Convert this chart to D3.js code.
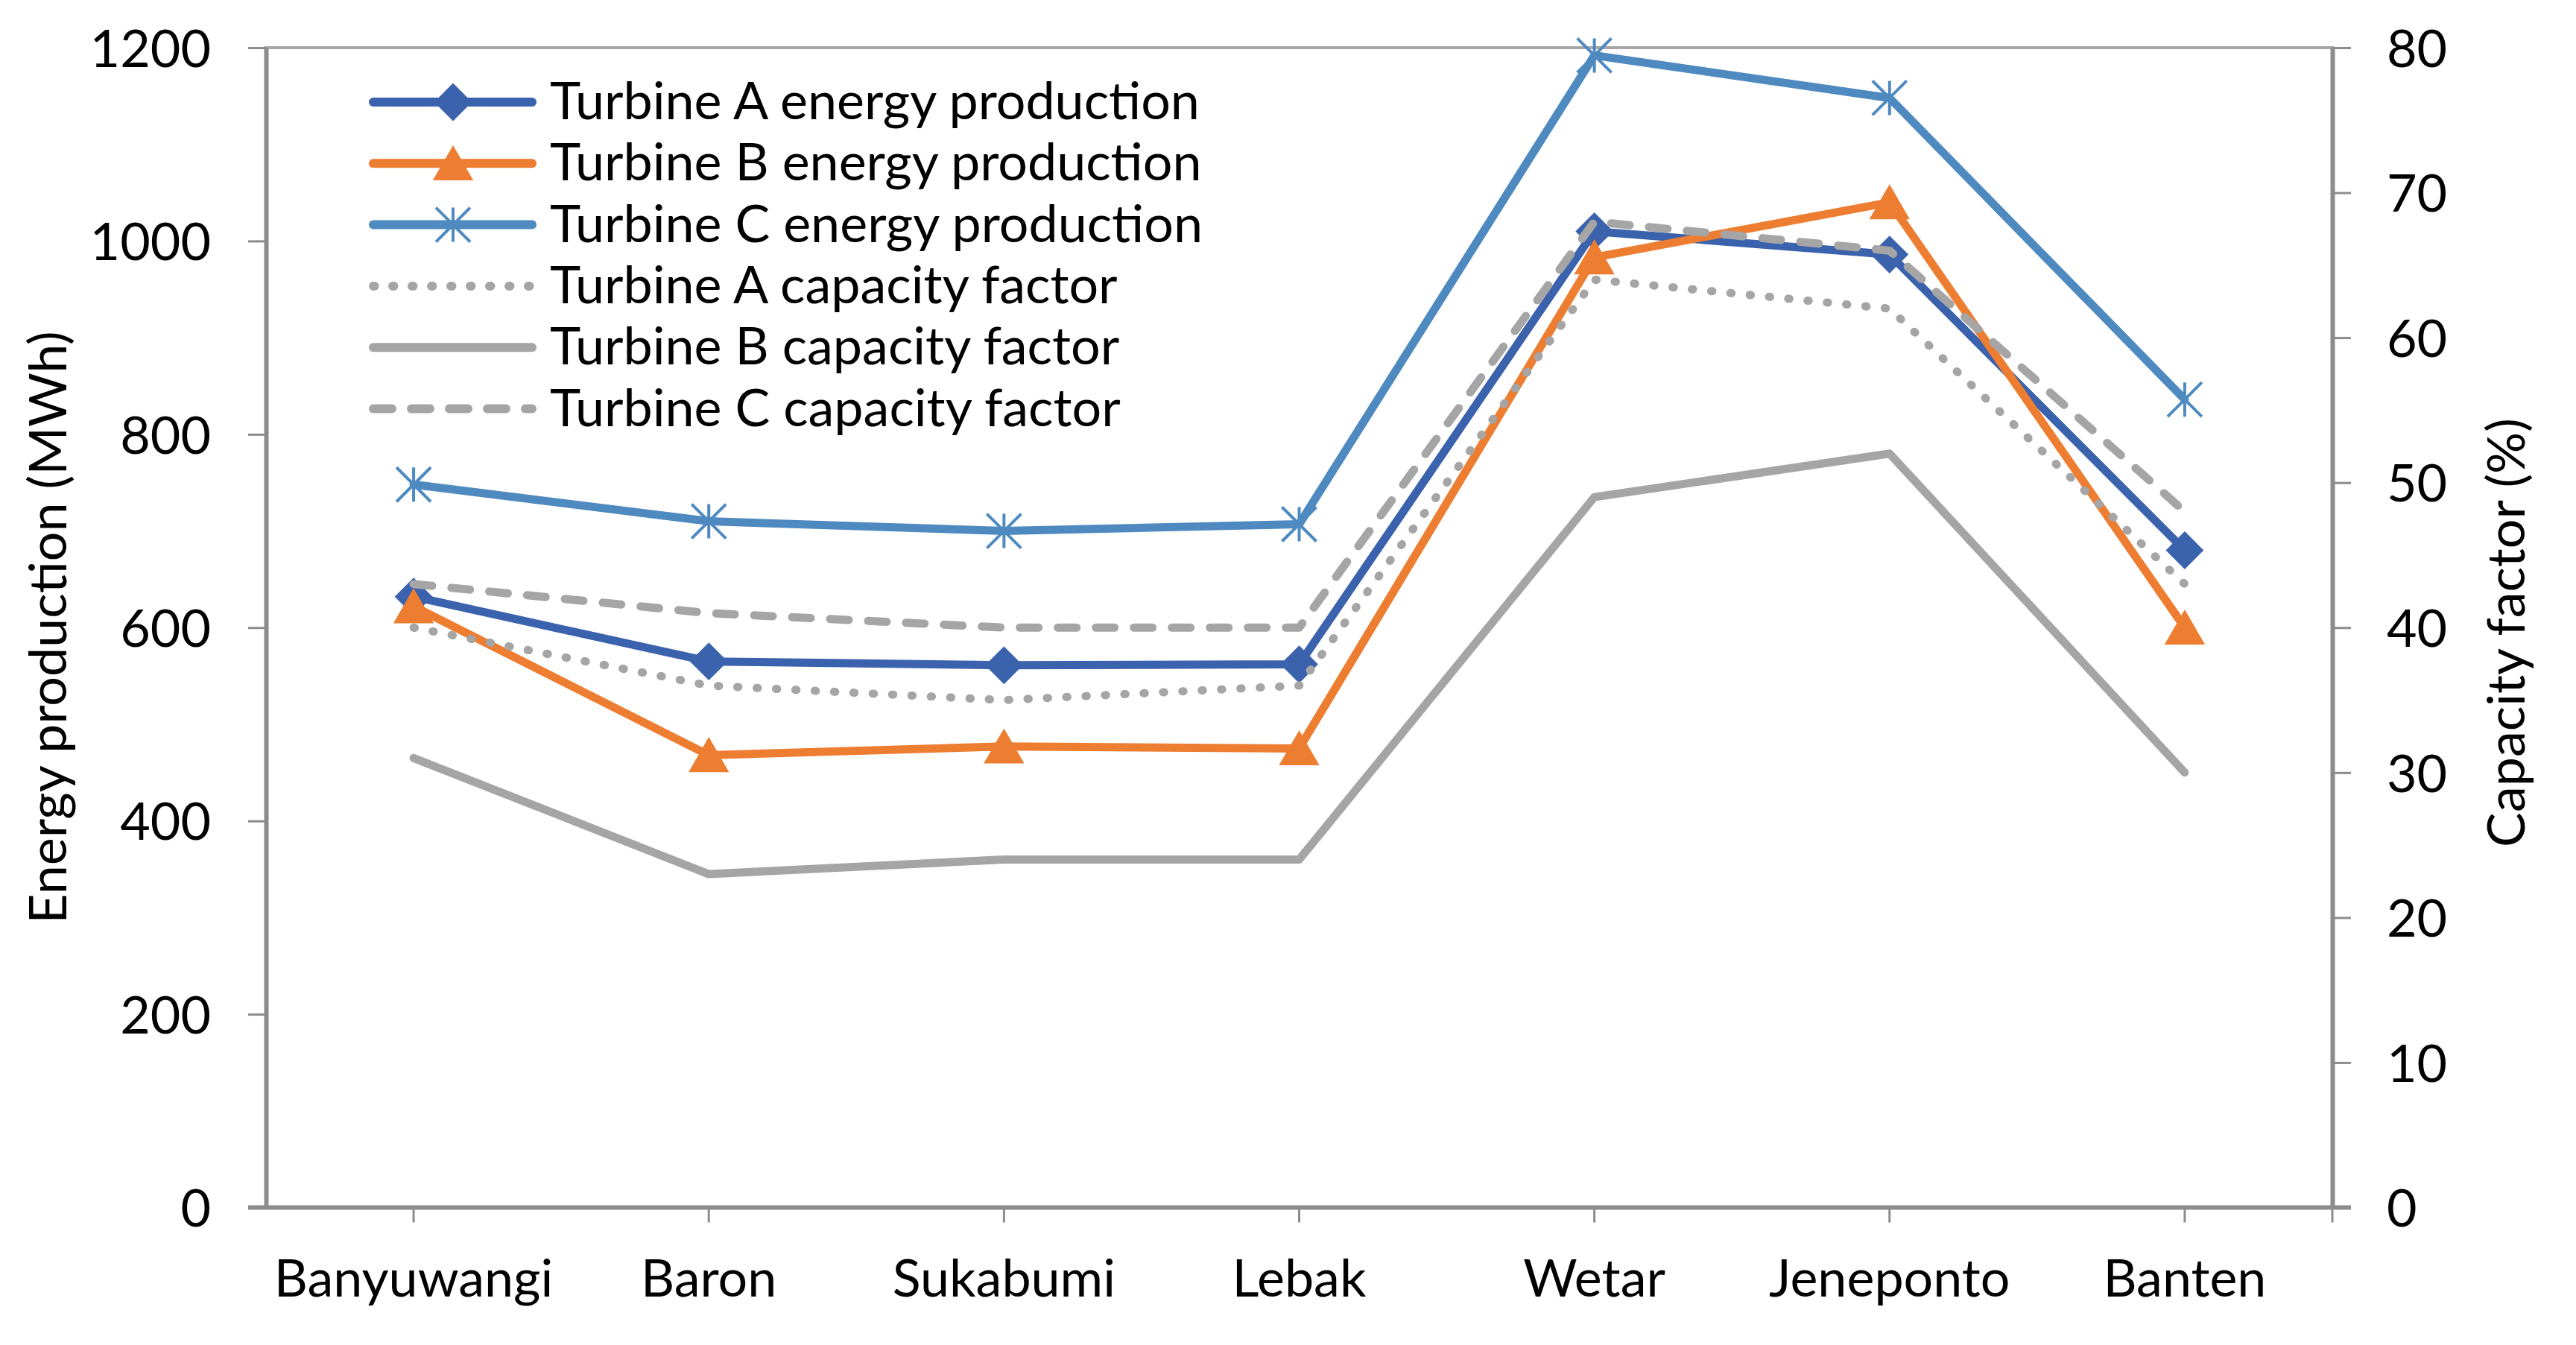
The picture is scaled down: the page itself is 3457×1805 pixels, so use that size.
<!DOCTYPE html>
<html>
<head>
<meta charset="utf-8">
<script src="https://cdn.jsdelivr.net/npm/d3@7"></script>
<style>
  body { margin: 0; background: #fff; }
  text { font-family: Lato, "Open Sans", sans-serif; fill: #000; }
</style>
</head>
<body>
<svg width="3457" height="1805"></svg>
<script>
// data
var sites = ["Banyuwangi", "Baron", "Sukabumi", "Lebak", "Wetar", "Jeneponto", "Banten"];
var energyA = [632, 565, 561, 562, 1010, 986, 680];
var energyB = [622, 468, 477, 475, 983, 1040, 600];
var energyC = [748, 710, 700, 707, 1192, 1148, 836];
var cfA = [40, 36, 35, 36, 64, 62, 43];
var cfB = [31, 23, 24, 24, 49, 52, 30];
var cfC = [43, 41, 40, 40, 68, 66, 48];
var leftTicks = [0, 200, 400, 600, 800, 1000, 1200];
var rightTicks = [0, 10, 20, 30, 40, 50, 60, 70, 80];

var svg = d3.select("svg");
svg.append("rect").attr("width", 3457).attr("height", 1805).attr("fill", "#fff");

var plotLeft = 357, plotRight = 3130, plotTop = 64, plotBottom = 1620.5;
var fontSize = 70;
var lineW = 11;

var x = d3.scaleBand().domain(sites).range([plotLeft, plotRight]),
    yL = d3.scaleLinear().domain([0, 1200]).range([plotBottom, plotTop]),
    yR = d3.scaleLinear().domain([0, 80]).range([plotBottom, plotTop]);

function cx(i) { return x(sites[i]) + x.bandwidth() / 2; }

// asterisk marker (vertical bar + X) like the office "star"
var star = {
  draw: function(ctx, size) {
    var r = Math.sqrt(size) / 2;
    ctx.moveTo(-r, -r); ctx.lineTo(r, r);
    ctx.moveTo(r, -r); ctx.lineTo(-r, r);
    ctx.moveTo(0, -r); ctx.lineTo(0, r);
  }
};

var energySeries = [
  { name: "Turbine A energy production", values: energyA, color: "#3B62AC", marker: "diamond" },
  { name: "Turbine B energy production", values: energyB, color: "#ED7D31", marker: "triangle" },
  { name: "Turbine C energy production", values: energyC, color: "#4E8AC0", marker: "star" }
];
var cfSeries = [
  { name: "Turbine A capacity factor", values: cfA, dash: "1.5 24.5" },
  { name: "Turbine B capacity factor", values: cfB, dash: null },
  { name: "Turbine C capacity factor", values: cfC, dash: "25 26" }
];
var grey = "#A5A5A5";

// plot border
svg.append("rect")
   .attr("x", plotLeft).attr("y", plotTop)
   .attr("width", plotRight - plotLeft).attr("height", plotBottom - plotTop)
   .attr("fill", "none").attr("stroke", "#A6A6A6").attr("stroke-width", 4);

function styleAxis(g) {
  g.select(".domain").attr("stroke", "#8C8C8C").attr("stroke-width", 6);
  g.selectAll(".tick line").attr("stroke", "#8C8C8C").attr("stroke-width", 3);
  g.selectAll("text").attr("font-size", fontSize).attr("font-family", "Lato, sans-serif").attr("fill", "#000");
}

// left axis
svg.append("g")
   .attr("transform", "translate(" + plotLeft + ",0)")
   .call(d3.axisLeft(yL).tickValues(leftTicks).tickFormat(d3.format("d"))
          .tickSize(24).tickSizeOuter(0).tickPadding(50))
   .call(styleAxis)
   .selectAll("text").attr("dy", "0.36em");

// right axis
svg.append("g")
   .attr("transform", "translate(" + plotRight + ",0)")
   .call(d3.axisRight(yR).tickValues(rightTicks).tickFormat(d3.format("d"))
          .tickSize(25).tickSizeOuter(0).tickPadding(48))
   .call(styleAxis)
   .selectAll("text").attr("dy", "0.36em");

// bottom axis
var gx = svg.append("g")
   .attr("transform", "translate(0," + plotBottom + ")")
   .call(d3.axisBottom(x).tickSize(20).tickSizeOuter(0))
   .call(styleAxis);
gx.select(".domain").attr("d", "M" + (plotLeft - 24) + ",0H" + (plotRight + 25));
gx.selectAll("text").attr("y", 1740 - plotBottom).attr("dy", null);
gx.append("line")
  .attr("x1", plotRight).attr("x2", plotRight).attr("y1", 0).attr("y2", 20)
  .attr("stroke", "#8C8C8C").attr("stroke-width", 3);

// axis titles
svg.append("text")
   .attr("transform", "translate(89,842) rotate(-90)")
   .attr("text-anchor", "middle")
   .attr("font-size", fontSize)
   .text("Energy production (MWh)");

svg.append("text")
   .attr("transform", "translate(3388,849) rotate(-90)")
   .attr("text-anchor", "middle")
   .attr("font-size", fontSize)
   .text("Capacity factor (%)");

function markerPath(type) {
  if (type == "diamond") return d3.symbol(d3.symbolSquare, 1150)();
  if (type == "triangle") return d3.symbol(d3.symbolTriangle, 1120)();
  return d3.symbol(star, 2116)();
}
function markerTransform(type, px, py) {
  if (type == "diamond") return "translate(" + px + "," + py + ") rotate(45)";
  if (type == "triangle") return "translate(" + px + "," + (py + 7) + ")";
  return "translate(" + px + "," + py + ")";
}
function drawMarker(g, s, px, py) {
  var p = g.append("path")
     .attr("d", markerPath(s.marker))
     .attr("transform", markerTransform(s.marker, px, py));
  if (s.marker == "star") {
    p.attr("fill", "none").attr("stroke", s.color).attr("stroke-width", 4);
  } else {
    p.attr("fill", s.color).attr("stroke", s.color).attr("stroke-width", 2);
  }
}

var plot = svg.append("g");

// energy production (left axis)
energySeries.forEach(function(s) {
  var line = d3.line()
    .x(function(d, i) { return cx(i); })
    .y(function(d) { return yL(d); });
  plot.append("path")
      .datum(s.values)
      .attr("d", line)
      .attr("fill", "none")
      .attr("stroke", s.color)
      .attr("stroke-width", lineW)
      .attr("stroke-linejoin", "round")
      .attr("stroke-linecap", "round");
  s.values.forEach(function(v, i) {
    drawMarker(plot, s, cx(i), yL(v));
  });
});

// capacity factor (right axis)
cfSeries.forEach(function(s) {
  var line = d3.line()
    .x(function(d, i) { return cx(i); })
    .y(function(d) { return yR(d); });
  plot.append("path")
      .datum(s.values)
      .attr("d", line)
      .attr("fill", "none")
      .attr("stroke", grey)
      .attr("stroke-width", lineW)
      .attr("stroke-linejoin", "round")
      .attr("stroke-linecap", "round")
      .attr("stroke-dasharray", s.dash);
});

// legend
var legend = svg.append("g");
var legendItems = energySeries.concat(cfSeries);
legendItems.forEach(function(s, i) {
  var ly = 137 + i * 82.3;
  legend.append("line")
    .attr("x1", 501).attr("x2", 714).attr("y1", ly).attr("y2", ly)
    .attr("stroke", s.color || grey)
    .attr("stroke-width", lineW + 1)
    .attr("stroke-linecap", "round")
    .attr("stroke-dasharray", s.dash || null);
  if (s.marker) drawMarker(legend, s, 608, ly);
  legend.append("text")
    .attr("x", 738).attr("y", ly + 23)
    .attr("font-size", fontSize)
    .text(s.name);
});
</script>
</body>
</html>
